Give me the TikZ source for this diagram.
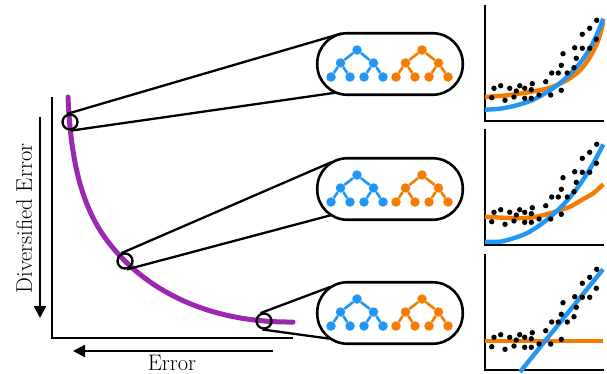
\documentclass[tikz,border=0pt]{standalone}
\usepackage{fontspec}
\usetikzlibrary{arrows.meta,calc}
\definecolor{frontpurple}{HTML}{9C27B0}
\definecolor{treeblue}{HTML}{2196F3}
\definecolor{treeorange}{HTML}{F57C00}
\tikzset{
  axisline/.style={line width=2.6pt},
  bigarrow/.style={line width=2.4pt,-{Triangle[width=12pt,length=12pt]}},
  zoomline/.style={line width=2.3pt},
  zoomcircle/.style={circle,draw,line width=2.3pt,minimum size=15pt,inner sep=0pt},
  pill/.style={draw,line width=2.6pt,rounded corners=30pt,minimum width=145.5pt,minimum height=61.5pt},
  treedot/.style={circle,inner sep=0pt,minimum size=9.5pt},
  treeedge/.style={line width=2.6pt},
  fitline/.style={line width=4.4pt},
  labeltext/.style={font=\fontsize{22.5}{27}\selectfont,inner sep=0pt}
}
\def\dotlist{6.7/23.3, 9/32.7, 15.7/35.3, 20/20.7, 24.7/32.7, 29/24, 31.3/30, 34.7/35.3, 39.7/22.7, 39.7/32.7, 46.3/22.7, 47.3/37.3, 46.3/31.3, 54/26, 60.7/39.3, 65.7/26, 66.7/48, 73.3/48, 76.3/30.7, 76.3/55.7, 78/67.3, 82.3/48, 89/53.3, 89.7/73.3, 91.3/62.7, 97.3/86.7, 97.3/72.7, 104.7/72.7, 104.7/92.7, 111.3/81.7, 111.7/100.7}
\begin{document}
\begin{tikzpicture}[x=1pt,y=1pt]
\useasboundingbox (0,0) rectangle (607,373);
\draw[axisline] (52,276) |- (293,35);
\draw[bigarrow] (40,256) -- (40,55);
\draw[bigarrow] (273,22) -- (73,22);
\node[labeltext,rotate=90,anchor=base] (ylabel) at (32,154.5) {Diversified Error};
\node[labeltext,anchor=base] (xlabel) at (172,3) {Error};
\draw[frontpurple,line width=5pt,line cap=round] (68,276) .. controls (72,180) and (95,142) .. (125,112) .. controls (148,89) and (200,50) .. (293,51);
\node[zoomcircle] (c1) at (70,251) {};
\node[zoomcircle] (c2) at (125,112) {};
\node[zoomcircle] (c3) at (264,52) {};
\node[pill] (box1) at (390,309) {};
\node[pill] (box2) at (390,184) {};
\node[pill] (box3) at (390,60) {};
\foreach \b/\ta/\ba/\tb/\bb in {1/107/277/100/248, 2/114/283/120/238, 3/114/260/123/236} {
  \coordinate (e\b) at ($(box\b.west)+(31,0)$);
  \draw[zoomline] (c\b.\ta) -- ($(e\b)+(\tb:31)$);
  \draw[zoomline] (c\b.\ba) -- ($(e\b)+(\bb:31)$);
}
\foreach \b in {1,2,3} {
  \foreach \t/\col/\dx in {a/treeblue/-33, b/treeorange/32} {
    \node[treedot,fill=\col] (\b\t0) at ($(box\b)+(\dx,14)$) {};
    \node[treedot,fill=\col] (\b\t1) at ($(\b\t0)+(-16.5,-13)$) {};
    \node[treedot,fill=\col] (\b\t2) at ($(\b\t0)+(16.5,-13)$) {};
    \node[treedot,fill=\col] (\b\t3) at ($(\b\t1)+(-9.5,-14)$) {};
    \node[treedot,fill=\col] (\b\t4) at ($(\b\t1)+(9.5,-14)$) {};
    \node[treedot,fill=\col] (\b\t5) at ($(\b\t2)+(-9.5,-14)$) {};
    \node[treedot,fill=\col] (\b\t6) at ($(\b\t2)+(9.5,-14)$) {};
    \draw[treeedge,\col] (\b\t1) -- (\b\t0) -- (\b\t2);
    \draw[treeedge,\col] (\b\t3) -- (\b\t1) -- (\b\t4) (\b\t5) -- (\b\t2) -- (\b\t6);
  }
}
\begin{scope}[shift={(485,252)}]
\draw[axisline] (0,116) |- (119,0);
\draw[fitline,treeorange] plot[smooth] coordinates {(0,24) (21.7,25.7) (45,29) (65,33.3) (81.7,40.7) (95,50.7) (105,64) (113.3,80.7) (118.3,99)};
\draw[fitline,treeblue] plot[smooth] coordinates {(0,11.3) (15,12.3) (31.7,15.7) (48.3,21.3) (65,30.7) (78.3,40.7) (91.7,54) (101.7,67.3) (110,82.3) (118.3,102.3)};
\foreach \px/\py in \dotlist {\fill (\px,\py) circle[radius=2.7pt];}
\end{scope}
\begin{scope}[shift={(485,128)}]
\draw[axisline] (0,116) |- (119,0);
\draw[fitline,treeorange] plot[smooth] coordinates {(0,28.3) (18.3,27.3) (35,26.7) (51.7,28.3) (68.3,32.7) (85,38.3) (98.3,46) (108.3,51.7) (118.3,60.7)};
\draw[fitline,treeblue] plot[smooth] coordinates {(0,3.3) (15,3.3) (28.3,6.7) (41.7,11.7) (55,20) (68.3,30.7) (81.7,44) (95,60.7) (108.3,81.7) (118.3,100.7)};
\foreach \px/\py in \dotlist {\fill (\px,\py) circle[radius=2.7pt];}
\end{scope}
\begin{scope}[shift={(485,3)}]
\draw[axisline] (0,116) |- (119,0);
\draw[fitline,treeorange] (0,29.3) -- (118,29.3);
\draw[fitline,treeblue] (35,-2) -- (118,100.7);
\foreach \px/\py in \dotlist {\fill (\px,\py) circle[radius=2.7pt];}
\end{scope}
\end{tikzpicture}
\end{document}
